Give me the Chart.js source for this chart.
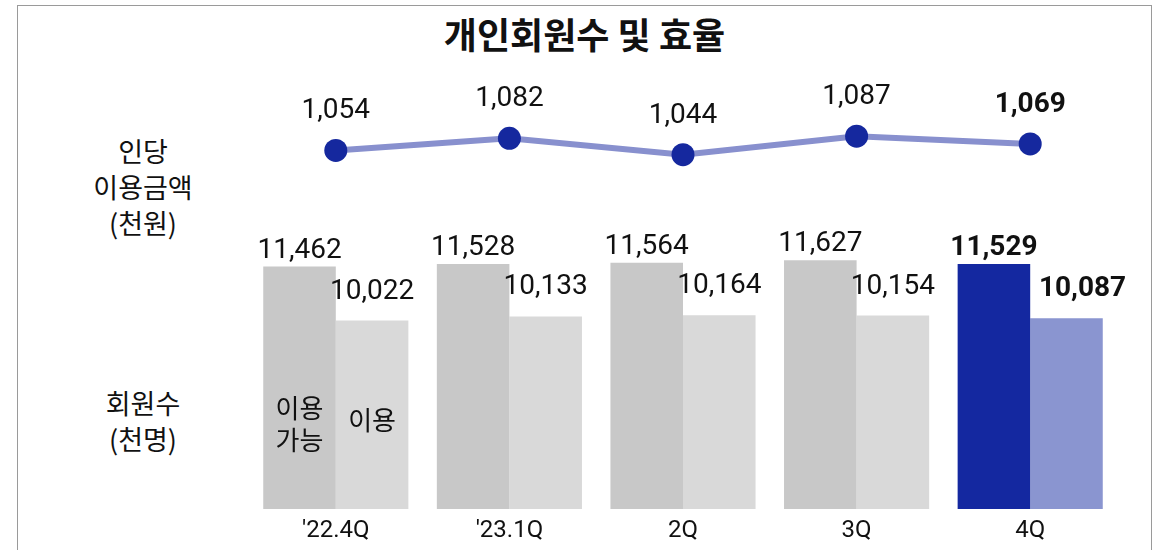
<!DOCTYPE html>
<html>
<head>
<meta charset="utf-8">
<script src="https://cdn.jsdelivr.net/npm/chart.js@4"></script>
<style>
  html, body { margin: 0; padding: 0; background: #fff; }
  #wrap { position: relative; width: 1161px; height: 550px; overflow: hidden; }
  #frame { position: absolute; left: 17px; top: 5px; width: 1135px; height: 600px; border: 1px solid #9a9a9a; box-sizing: border-box; }
  #title { position: absolute; left: 17px; width: 1135px; top: 13px; text-align: center;
           font: 700 36px/40px 'Noto Sans CJK KR', sans-serif; color: #111; }
  .side { position: absolute; width: 160px; left: 63px; text-align: center;
          font: 27px/36px 'Noto Sans CJK KR', sans-serif; color: #111; }
  canvas { position: absolute; left: 0; top: 0; }
</style>
</head>
<body>
<div id="wrap">
  <div id="frame"></div>
  <div id="title">개인회원수 및 효율</div>
  <div class="side" style="top:133px">인당<br>이용금액<br>(천원)</div>
  <div class="side" style="top:385px">회원수<br>(천명)</div>
  <canvas id="chart" width="1161" height="550"></canvas>
</div>
<script>
// 분기
var quarters = ["'22.4Q", "'23.1Q", "2Q", "3Q", "4Q"];
// 인당 이용금액 (천원)
var perMemberAmount = [1054, 1082, 1044, 1087, 1069];
// 회원수 (천명)
var availableMembers = [11462, 11528, 11564, 11627, 11529];
var activeMembers = [10022, 10133, 10164, 10154, 10087];

var availableColors = ['#c8c8c8', '#c8c8c8', '#c8c8c8', '#c8c8c8', '#1428a0'];
var activeColors = ['#d9d9d9', '#d9d9d9', '#d9d9d9', '#d9d9d9', '#8a95d0'];

var fmt = function (v) { return v.toLocaleString('en-US'); };

var labelPlugin = {
    id: 'valueLabels',
    afterDatasetsDraw: function (chart) {
        var ctx = chart.ctx;
        var last = quarters.length - 1;
        ctx.save();
        ctx.fillStyle = '#111';
        ctx.textAlign = 'center';
        ctx.textBaseline = 'alphabetic';
        chart.data.datasets.forEach(function (ds, i) {
            var meta = chart.getDatasetMeta(i);
            meta.data.forEach(function (el, j) {
                var dx = (j === last) ? (ds.lastShift || 0) : 0;
                ctx.font = (j === last ? '700 ' : '400 ') + '28px Roboto, sans-serif';
                ctx.fillText(fmt(ds.data[j]), el.x + dx, el.y - ds.labelGap);
            });
        });
        // 첫 막대 안쪽 범례
        var bottom = chart.chartArea.bottom;
        var a = chart.getDatasetMeta(1).data[0];
        var b = chart.getDatasetMeta(2).data[0];
        ctx.font = '26px "Noto Sans CJK KR", sans-serif';
        ctx.textBaseline = 'middle';
        ctx.fillText('이용', a.x, bottom - 101);
        ctx.fillText('가능', a.x, bottom - 69);
        ctx.fillText('이용', b.x, bottom - 89);
        ctx.restore();
    }
};

new Chart(document.getElementById('chart'), {
    data: {
        labels: quarters,
        datasets: [
            {
                type: 'line',
                label: '인당 이용금액',
                data: perMemberAmount,
                yAxisID: 'y2',
                borderColor: '#8890ce',
                borderWidth: 6,
                pointRadius: 11.5,
                pointBackgroundColor: '#15289e',
                pointBorderColor: '#15289e',
                pointBorderWidth: 0,
                labelGap: 32,
                order: 0
            },
            {
                type: 'bar',
                label: '이용 가능',
                data: availableMembers,
                yAxisID: 'y',
                backgroundColor: availableColors,
                labelGap: 9,
                order: 1
            },
            {
                type: 'bar',
                label: '이용',
                data: activeMembers,
                yAxisID: 'y',
                backgroundColor: activeColors,
                labelGap: 22,
                lastShift: 16,
                order: 1
            }
        ]
    },
    options: {
        responsive: false,
        animation: false,
        layout: { padding: { left: 249, right: 44, top: 70, bottom: 0 } },
        datasets: { bar: { categoryPercentage: 0.836, barPercentage: 1 } },
        plugins: { legend: { display: false }, tooltip: { enabled: false } },
        scales: {
            x: {
                grid: { display: false, drawTicks: false },
                border: { display: false },
                ticks: { color: '#111', font: { family: 'Roboto', size: 24 }, padding: 8 },
                afterFit: function (scale) { scale.height = 41; }
            },
            y: { display: false, min: 5000, max: 16700 },
            y2: { display: false, min: 220, max: 1241 }
        }
    },
    plugins: [labelPlugin]
});
</script>
</body>
</html>
